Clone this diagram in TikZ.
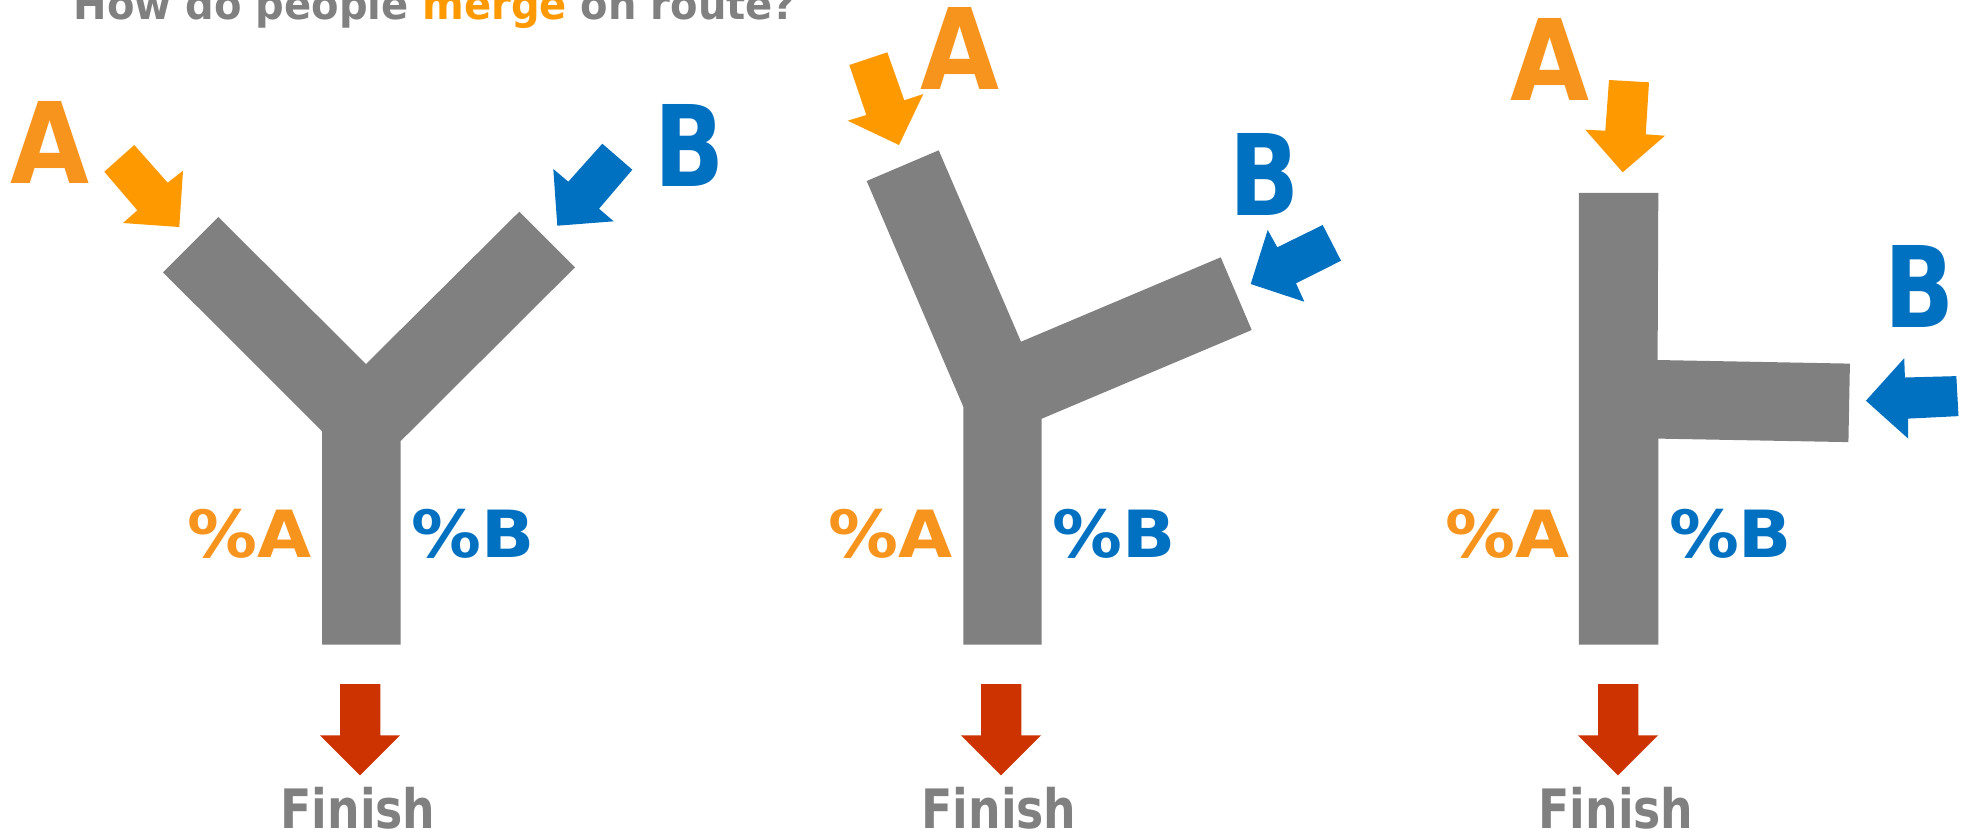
\documentclass[tikz,border=0pt]{standalone}
\usepackage{fontspec}
\setmainfont{DejaVu Sans}
\usepackage{graphicx}
\definecolor{rgray}{HTML}{808080}
\definecolor{aorange}{HTML}{FF9900}
\definecolor{lorange}{HTML}{F7941D}
\definecolor{bblue}{HTML}{0070C0}
\definecolor{fred}{HTML}{CC3300}
\newcommand\fitw[2]{\resizebox{#1}{\height}{#2}}
\begin{document}
\begin{tikzpicture}[x=0.01cm,y=-0.01cm,
  road/.style={fill=rgray,draw=none},
  arrA/.style={fill=aorange,draw=none},
  arrB/.style={fill=bblue,draw=none},
  arrF/.style={fill=fred,draw=none},
  txt/.style={anchor=base,inner sep=0pt,outer sep=0pt},
  bigA/.style={txt,text=lorange,font=\fontsize{32}{32}\selectfont\bfseries},
  bigB/.style={txt,text=bblue,font=\fontsize{32}{32}\selectfont\bfseries},
  pctA/.style={txt,text=lorange,font=\fontsize{18.5}{18.5}\selectfont\bfseries},
  pctB/.style={txt,text=bblue,font=\fontsize{18.5}{18.5}\selectfont\bfseries},
  fin/.style={txt,text=rgray,font=\fontsize{15.45}{15.45}\selectfont\bfseries},
  ttl/.style={txt,text=rgray,font=\fontsize{11.95}{11.95}\selectfont\bfseries}]
\useasboundingbox (0,0) rectangle (1970,832);
\fill[white] (0,0) rectangle (1970,832);

% title
\node[ttl] (title) at (435,19) {\fitw{7.22cm}{How do people \textcolor{aorange}{merge} on route?}};

% ---------- panel 1 ----------
\fill[road] (163,272.3) -- (218.3,217) -- (366,364) -- (519.3,211.7) -- (575,267.3)
  -- (400.7,441) -- (400.7,644.7) -- (322,644.7) -- (322,431) -- cycle;
\fill[arrA] (104.3,171.7) -- (134.3,145) -- (167.7,182.7) -- (183,170.7) -- (179.3,227)
  -- (123,223) -- (137.3,210.3) -- cycle;
\fill[arrB] (602.3,143.7) -- (632.3,169.7) -- (599,208.7) -- (613.7,221.3) -- (557.3,225.7)
  -- (553.3,169) -- (568.3,181.7) -- cycle;
\node[bigA] (A1) at (50.3,183) {\fitw{0.79cm}{A}};
\node[bigB] (B1) at (689.3,186.7) {\fitw{0.70cm}{B}};
\node[pctA] (pA1) at (250,557.7) {\fitw{1.24cm}{\%A}};
\node[pctB] (pB1) at (473.3,557.7) {\fitw{1.23cm}{\%B}};

% ---------- panel 2 ----------
\fill[road] (866.7,181) -- (938.7,150.3) -- (1021,341.7) -- (1220.7,257.3) -- (1251.7,330)
  -- (1041.7,418.7) -- (1041.7,644.7) -- (963.3,644.7) -- (963.3,406.7) -- cycle;
\fill[arrA] (849.3,65) -- (887.3,52.3) -- (904.3,100.3) -- (923.3,94) -- (899,145)
  -- (847.7,120.7) -- (866.3,115) -- cycle;
\fill[arrB] (1322.7,225) -- (1341,260.7) -- (1296,283.3) -- (1304.3,301.7) -- (1250.7,284)
  -- (1267.7,230) -- (1277.3,247.3) -- cycle;
\node[bigA] (A2) at (959.7,89.3) {\fitw{0.79cm}{A}};
\node[bigB] (B2) at (1265,215.7) {\fitw{0.70cm}{B}};
\node[pctA] (pA2) at (890.9,557.7) {\fitw{1.24cm}{\%A}};
\node[pctB] (pB2) at (1114,557.7) {\fitw{1.23cm}{\%B}};

% ---------- panel 3 ----------
\fill[road] (1578.9,192.9) -- (1658.3,192.9) -- (1657.6,360) -- (1849.9,363.6) -- (1848.4,442.1)
  -- (1658.3,438.6) -- (1658.3,644.7) -- (1578.9,644.7) -- cycle;
\fill[arrA] (1609,80) -- (1649,82.3) -- (1645.7,134.3) -- (1665,135.7) -- (1622.7,172.3)
  -- (1585.3,129.7) -- (1605.3,130.7) -- cycle;
\fill[arrB] (1956.3,376.1) -- (1958.5,416.1) -- (1908.2,418.6) -- (1908.2,438.6) -- (1865.9,400.7)
  -- (1904.2,358.2) -- (1904.9,377.5) -- cycle;
\node[bigA] (A3) at (1550.3,100.7) {\fitw{0.79cm}{A}};
\node[bigB] (B3) at (1919,327.7) {\fitw{0.70cm}{B}};
\node[pctA] (pA3) at (1507.3,557.5) {\fitw{1.24cm}{\%A}};
\node[pctB] (pB3) at (1730.6,557.5) {\fitw{1.23cm}{\%B}};

% ---------- finish arrows ----------
\foreach \cx/\tx/\n in {360/358/1, 1001/999/2, 1618/1616/3}{
  \fill[arrF] ({\cx-20},684) -- ({\cx+20.3},684) -- ({\cx+20.3},735.3) -- ({\cx+40},735.3)
    -- (\cx,775.3) -- ({\cx-40},735.3) -- ({\cx-20},735.3) -- cycle;
  \node[fin] (F\n) at (\tx,828.3) {\fitw{1.55cm}{Finish}};
}
\end{tikzpicture}
\end{document}
